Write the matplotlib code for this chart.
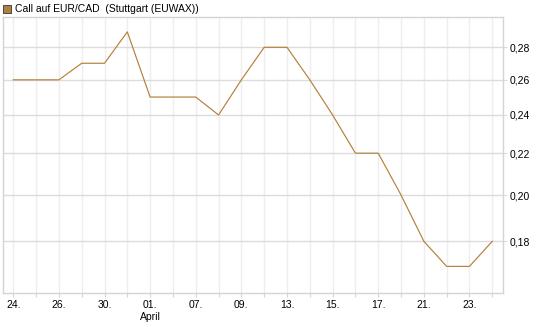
import matplotlib
matplotlib.use("Agg")
import matplotlib.pyplot as plt
from matplotlib.ticker import FixedLocator, FixedFormatter, NullLocator
from matplotlib.patches import Rectangle

plt.rcParams["font.family"] = ["Liberation Sans", "DejaVu Sans"]

# trading days, Mar 24 - Apr 24 (Easter holidays skipped)
days = ["24.", "25.", "26.", "27.", "30.", "31.", "01.", "02.", "07.", "08.", "09.",
        "10.", "13.", "14.", "15.", "16.", "17.", "20.", "21.", "22.", "23.", "24."]
prices = [0.26, 0.26, 0.26, 0.27, 0.27, 0.29, 0.25, 0.25, 0.25, 0.24, 0.26,
          0.28, 0.28, 0.26, 0.24, 0.22, 0.22, 0.20, 0.18, 0.17, 0.17, 0.18]
y_ticks = [0.18, 0.20, 0.22, 0.24, 0.26, 0.28]
title = "Call auf EUR/CAD  (Stuttgart (EUWAX))"

line_color = "#b5803a"
grid_h = "#dcdcdc"
grid_v = "#eeeeee"
spine_c = "#d4d4d4"

W, H = 545, 327
fig = plt.figure(figsize=(W / 100, H / 100), dpi=100)
ax = fig.add_axes([3 / W, 34 / H, 500 / W, 276 / H])

x = list(range(len(prices)))
ax.plot(x, prices, color=line_color, linewidth=0.85, zorder=3)

ax.set_yscale("log")
ax.set_ylim(0.16, 0.30)
ax.set_xlim(-0.45, 21.47)

ax.yaxis.set_major_locator(FixedLocator(y_ticks))
ax.yaxis.set_major_formatter(FixedFormatter([f"{v:.2f}".replace(".", ",") for v in y_ticks]))
ax.yaxis.set_minor_locator(NullLocator())
ax.yaxis.tick_right()

labels = []
for i, d in enumerate(days):
    if i % 2 == 0:
        labels.append(d + "\nApril" if d == "01." else d)
    else:
        labels.append("")
ax.set_xticks(x)
ax.set_xticklabels(labels)

ax.tick_params(axis="x", length=3, color=spine_c, labelsize=7.5, pad=2)
ax.tick_params(axis="y", length=3, color=grid_h, labelsize=7.5, pad=2)

ax.grid(axis="y", color=grid_h, linewidth=1.0, zorder=0)
ax.grid(axis="x", color=grid_v, linewidth=1.0, zorder=0)

for s in ax.spines.values():
    s.set_color(spine_c)
    s.set_linewidth(1.0)

# legend-style header
fig.patches.append(Rectangle((3 / W, 1 - 13 / H), 8 / W, 8 / H, transform=fig.transFigure,
                             facecolor="#b08040", edgecolor="#333333", linewidth=0.6))
fig.text(15 / W, 1 - 9 / H, title, fontsize=7.5, va="center", ha="left")

fig.savefig("out.png", dpi=100)
